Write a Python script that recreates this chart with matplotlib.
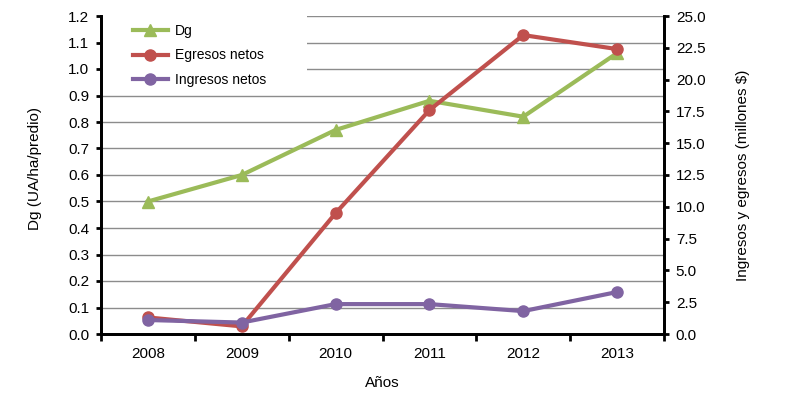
import matplotlib
matplotlib.use("Agg")
import matplotlib.pyplot as plt
from matplotlib.patches import Rectangle
from matplotlib.ticker import FormatStrFormatter, FixedLocator, MultipleLocator

plt.rcParams['font.family'] = ['Liberation Sans', 'DejaVu Sans']

years = ['2008', '2009', '2010', '2011', '2012', '2013']
dg = [0.50, 0.60, 0.77, 0.88, 0.82, 1.06]
egresos = [1.3, 0.6, 9.5, 17.6, 23.5, 22.4]
ingresos = [1.1, 0.9, 2.35, 2.35, 1.8, 3.3]

GREEN = '#9BBB59'
RED = '#C0504D'
PURPLE = '#8064A2'
FS = 11

fig = plt.figure(figsize=(7.86, 3.97), dpi=100)
ax1 = fig.add_axes([101/786, 1-334/397, 563/786, 318/397])
ax2 = ax1.twinx()

x = list(range(len(years)))
l1, = ax1.plot(x, dg, color=GREEN, lw=3, marker='^', ms=8, label='Dg', zorder=3)
l2, = ax2.plot(x, egresos, color=RED, lw=3, marker='o', ms=8, label='Egresos netos', zorder=3)
l3, = ax2.plot(x, ingresos, color=PURPLE, lw=3, marker='o', ms=8, label='Ingresos netos', zorder=3)

ax1.set_xlim(-0.5, len(years) - 0.5)
ax1.set_ylim(0, 1.2)
ax2.set_ylim(0, 25)

ax1.yaxis.set_major_locator(MultipleLocator(0.1))
ax1.yaxis.set_major_formatter(FormatStrFormatter('%.1f'))
ax2.yaxis.set_major_locator(MultipleLocator(2.5))
ax2.yaxis.set_major_formatter(FormatStrFormatter('%.1f'))

ax1.xaxis.set_major_locator(FixedLocator([i - 0.5 for i in range(len(years) + 1)]))
ax1.xaxis.set_minor_locator(FixedLocator(x))
ax1.set_xticklabels([])
ax1.set_xticklabels(years, minor=True)
ax1.tick_params(axis='x', which='major', length=5, width=2, direction='out')
ax1.tick_params(axis='x', which='minor', length=0, pad=9, labelsize=FS)
ax1.tick_params(axis='y', length=3.5, width=2, direction='out', labelsize=FS, pad=5)
ax2.tick_params(axis='y', length=3.5, width=2, direction='out', labelsize=FS, pad=5)

ax1.grid(axis='y', color='#8c8c8c', lw=1)
ax1.set_axisbelow(True)

for ax in (ax1, ax2):
    ax.spines['top'].set_visible(False)
    for s in ('left', 'right', 'bottom'):
        ax.spines[s].set_linewidth(2)
        ax.spines[s].set_color('black')

ax1.set_xlabel('Años', fontsize=FS)
ax1.xaxis.set_label_coords(0.5, -0.132)
ax1.set_ylabel('Dg (UA/ha/predio)', fontsize=FS)
ax1.yaxis.set_label_coords(-0.105, 0.52)
ax2.set_ylabel('Ingresos y egresos (millones $)', fontsize=FS)
ax2.yaxis.set_label_coords(1.127, 0.5)

ax2.add_patch(Rectangle((0.004, 0.767), 0.362, 0.238, transform=ax2.transAxes,
                        facecolor='white', edgecolor='none', zorder=4, clip_on=False))
leg = ax2.legend(handles=[l1, l2, l3], loc='upper left', bbox_to_anchor=(0.057, 0.975),
                 frameon=False, fontsize=10, handlelength=2.5, handletextpad=0.5,
                 labelspacing=0.75, borderpad=0, borderaxespad=0)
leg.set_zorder(5)

fig.savefig('out.png', dpi=100, facecolor='white')
